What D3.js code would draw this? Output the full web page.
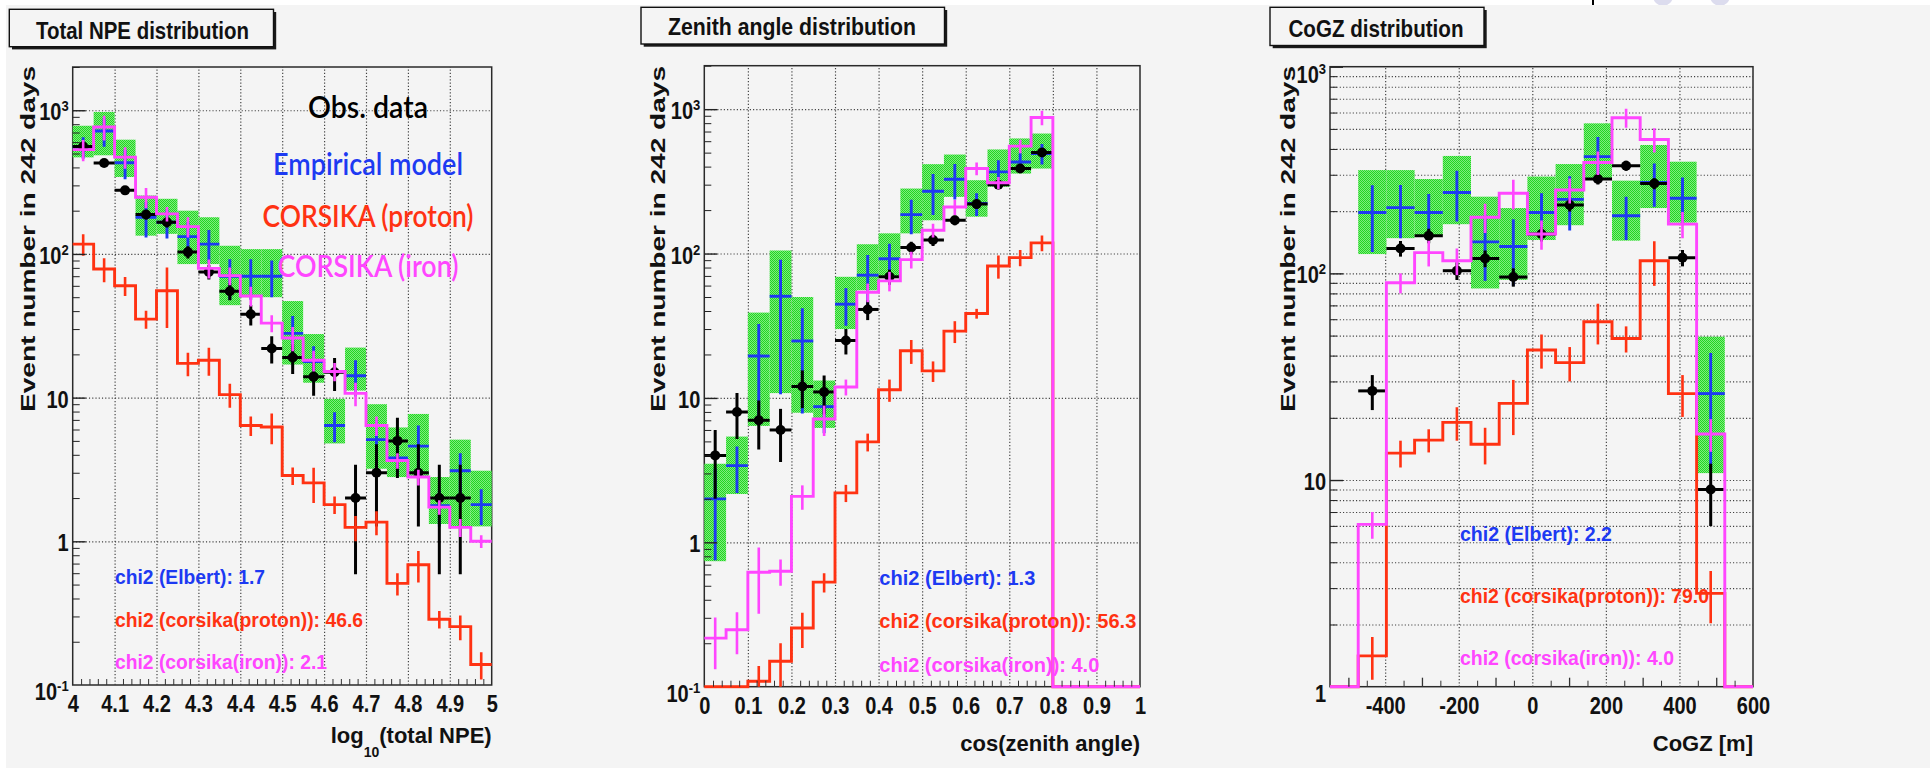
<!DOCTYPE html>
<html>
<head>
<meta charset="utf-8">
<script src="https://cdn.jsdelivr.net/npm/d3@7"></script>
<style>
  body { margin: 0; background: #fff; }
  svg { display: block; }
  text { font-family: "Liberation Sans", Arial, Helvetica, sans-serif; }
</style>
</head>
<body>
<svg id="chart" width="1930" height="770"></svg>
<script>
// ---------------- Total NPE distribution ----------------
const npeEdges = [4.00, 4.05, 4.10, 4.15, 4.20, 4.25, 4.30, 4.35, 4.40, 4.45, 4.50,
                  4.55, 4.60, 4.65, 4.70, 4.75, 4.80, 4.85, 4.90, 4.95, 5.00];
const npeObs      = [560, 430, 277, 188, 166, 103, 75, 55, 38, 22, 19, 14, 15, 2, 3, 5, 3, 2, 2, 0];
const npeObsErr   = [24, 21, 17, 14, 13, 10, 8.7, 7.4, 6.2, 4.7, 4.4, 3.7, 3.9, 1.41, 1.73, 2.24, 1.73, 1.41, 1.41, 0];
const npeEmp      = [555, 718, 431, 180, 166, 132, 117, 70, 70, 70, 28, 17.8, 6.4, 14.2, 5.1, 3.8, 4.6, 1.77, 3.1, 1.8];
const npeEmpErr   = [95, 160, 100, 50, 38, 35, 30, 22, 22, 20, 9, 5, 1.5, 4, 1.9, 0.8, 1.8, 0.5, 1, 0.5];
const npeBandLo   = [470, 486, 343, 134, 138, 85, 85, 44, 50, 50, 17, 12.7, 4.8, 11.2, 3.2, 2.8, 2.8, 1.32, 1.27, 1.27];
const npeBandHi   = [780, 973, 624, 255, 242, 200, 180, 114, 108, 108, 47, 27.7, 9.8, 22.3, 9, 6.2, 7.7, 2.8, 5.1, 3.1];
const npeProton   = [117, 78.5, 60, 35.2, 55.5, 17.3, 18.2, 10.5, 6.4, 6.24, 2.87, 2.55, 1.8, 1.25, 1.36, 0.51, 0.687, 0.287, 0.255, 0.139];
const npeProtonErr= [20, 15, 9, 5, 25, 3.2, 4, 2, 1, 1.5, 0.4, 0.7, 0.25, 0.25, 0.26, 0.09, 0.17, 0.04, 0.05, 0.03];
const npeIron     = [532, 765, 472, 248, 190, 155, 79.4, 70.6, 51, 33, 26, 18.2, 15.2, 10.7, 6.4, 3.65, 2.8, 1.73, 1.25, 1.0];
const npeIronErr  = [90, 150, 80, 40, 22, 25, 12, 10, 8, 4.5, 5, 3, 2.2, 2, 1, 0.45, 0.35, 0.2, 0.18, 0.1];
const npeTicks    = [4, 4.1, 4.2, 4.3, 4.4, 4.5, 4.6, 4.7, 4.8, 4.9, 5];
const npeTickText = ["4", "4.1", "4.2", "4.3", "4.4", "4.5", "4.6", "4.7", "4.8", "4.9", "5"];
const npeChi2     = ["1.7", "46.6", "2.1"];

// ---------------- Zenith angle distribution ----------------
const zenEdges = [0, 0.05, 0.10, 0.15, 0.20, 0.25, 0.30, 0.35, 0.40, 0.45, 0.50,
                  0.55, 0.60, 0.65, 0.70, 0.75, 0.80, 0.85, 0.90, 0.95, 1.00];
const zenObs      = [4, 8, 7, 6, 12, 11, 25, 41, 69, 110, 124, 170, 220, 300, 388, 501, 0, 0, 0, 0];
const zenObsErr   = [2, 2.8, 2.6, 2.4, 3.5, 3.3, 5, 6.4, 8.3, 10.5, 11.1, 13, 14.8, 17.3, 19.7, 22.4, 0, 0, 0, 0];
const zenEmp      = [2.0, 3.4, 19.5, 50.6, 24.8, 8.7, 44.6, 70.8, 92, 186, 270, 327, 222, 368, 431, 493, 0, 0, 0, 0];
const zenEmpErr   = [1.25, 1.2, 13, 40, 17, 3, 13, 27, 25, 50, 85, 90, 40, 75, 65, 80, 0, 0, 0, 0];
const zenBandLo   = [0.74, 2.16, 6.4, 10.8, 7.9, 6.2, 30, 55.7, 69, 138, 170, 247, 180, 290, 358, 388, 0, 0, 0, 0];
const zenBandHi   = [3.5, 5.4, 39, 105, 50, 13.2, 69, 116, 138, 282, 416, 485, 322, 526, 627, 678, 0, 0, 0, 0];
const zenProton   = [0, 0, 0.109, 0.15, 0.255, 0.53, 2.2, 4.96, 11.4, 21.2, 15.4, 29, 38.4, 82, 93.7, 118.6, 0, 0, 0, 0];
const zenProtonErr= [0, 0, 0.03, 0.05, 0.07, 0.08, 0.3, 0.7, 2, 4, 2.5, 5, 3, 15, 12, 15, 0, 0, 0, 0];
const zenIron     = [0.217, 0.248, 0.62, 0.63, 2.08, 7.15, 11.9, 54, 64.7, 90.8, 145, 210, 388, 309, 555, 875, 0, 0, 0, 0];
const zenIronErr  = [0.085, 0.08, 0.3, 0.13, 0.4, 1.7, 1.5, 8, 10, 12, 16, 25, 40, 30, 60, 100, 0, 0, 0, 0];
const zenTicks    = [0, 0.1, 0.2, 0.3, 0.4, 0.5, 0.6, 0.7, 0.8, 0.9, 1];
const zenTickText = ["0", "0.1", "0.2", "0.3", "0.4", "0.5", "0.6", "0.7", "0.8", "0.9", "1"];
const zenChi2     = ["1.3", "56.3", "4.0"];

// ---------------- CoGZ distribution ----------------
const cogzEdges = [-550, -473.3, -396.7, -320, -243.3, -166.7, -90, -13.3, 63.3,
                   140, 216.7, 293.3, 370, 446.7, 523.3, 600];
const cogzObs      = [0, 27, 132, 152, 103, 118, 96, 155, 214, 286, 332, 272, 119, 9, 0];
const cogzObsErr   = [0, 5.2, 11.5, 12.3, 10.1, 10.9, 9.8, 12.4, 14.6, 16.9, 18.2, 16.5, 10.9, 3, 0];
const cogzEmp      = [0, 197, 208, 197, 246, 142, 135, 197, 228, 367, 190, 275, 231, 26.2, 0];
const cogzEmpErr   = [0, 70, 60, 45, 68, 50, 48, 47, 67, 90, 45, 65, 60, 15, 0];
const cogzBandLo   = [0, 124, 148, 153, 173, 84.5, 93, 145, 171, 288, 144, 207, 176, 10.8, 0];
const cogzBandHi   = [0, 316, 316, 286, 370, 235, 207, 294, 338, 532, 281, 418, 347, 49.4, 0];
const cogzProton   = [0, 1.41, 13.5, 15.6, 19.0, 14.9, 23.5, 42.6, 37, 58.3, 48.4, 115, 26.2, 2.83, 0];
const cogzProtonErr= [0, 0.33, 2, 2, 3.5, 3, 7, 8, 7, 13, 7, 28, 6, 0.8, 0];
const cogzIron     = [0, 6.1, 90, 126, 115, 187, 244, 155, 253, 344, 566, 444, 173, 16.7, 0];
const cogzIronErr  = [0, 0.9, 10, 18, 17, 30, 40, 25, 35, 45, 60, 60, 25, 3, 0];
const cogzTicks    = [-400, -200, 0, 200, 400, 600];
const cogzTickText = ["-400", "-200", "0", "200", "400", "600"];
const cogzChi2     = ["2.2", "79.0", "4.0"];

// ---------------- shared text ----------------
const chi2Names    = ["chi2 (Elbert): ", "chi2 (corsika(proton)): ", "chi2 (corsika(iron)): "];
const legendNames  = ["Obs. data", "Empirical model", "CORSIKA (proton)", "CORSIKA (iron)"];
const yAxisTitle   = "Event number in 242 days";

const BLACK = "#000", BLUE = "#1d3af2", RED = "#ff3212", MAGENTA = "#ff46ff";
const BG = "#f4f4f4";
const FONT = "'Liberation Sans', Arial, Helvetica, sans-serif";

const svg = d3.select("#chart");
const defs = svg.append("defs");

// stippled green fill for the model uncertainty band
const pat = defs.append("pattern").attr("id", "bandFill")
  .attr("patternUnits", "userSpaceOnUse").attr("width", 2).attr("height", 2);
pat.append("rect").attr("width", 2).attr("height", 2).attr("fill", "#7eec7e");
pat.append("rect").attr("width", 1).attr("height", 1).attr("fill", "#22d622");
pat.append("rect").attr("x", 1).attr("y", 1).attr("width", 1).attr("height", 1).attr("fill", "#22d622");

// page background
svg.append("rect").attr("width", 1930).attr("height", 770).attr("fill", "#fff");
svg.append("circle").attr("cx", 1663).attr("cy", -4).attr("r", 10).attr("fill", "#dcdcee");
svg.append("circle").attr("cx", 1720).attr("cy", -4).attr("r", 10).attr("fill", "#dcdcee");
svg.append("line").attr("x1", 1593).attr("x2", 1593).attr("y1", 0).attr("y2", 5)
  .attr("stroke", "#000").attr("stroke-width", 2);
svg.append("rect").attr("x", 6).attr("y", 5).attr("width", 1924).attr("height", 763).attr("fill", BG);

const decadeMinors = (lo, hi) => {
  const out = [];
  for (let k = Math.floor(Math.log10(lo)); k <= Math.ceil(Math.log10(hi)); k++)
    for (let m = 2; m <= 9; m++) { const v = m * Math.pow(10, k); if (v > lo && v <= hi) out.push(v); }
  return out;
};
const decades = (lo, hi) => {
  const out = [];
  for (let k = Math.round(Math.log10(lo)); Math.pow(10, k) <= hi * 1.0001; k++) out.push(Math.pow(10, k));
  return out;
};
const notMultiple = (vals, step) => vals.filter(v => Math.abs(v / step - Math.round(v / step)) > 1e-6);

const panels = [
  {
    id: "npe", xDomain: [4, 5], yDomain: [0.1, 2000],
    left: 72.7, right: 491.7, top: 67, bottom: 685,
    edges: npeEdges, obs: npeObs, obsErr: npeObsErr, emp: npeEmp, empErr: npeEmpErr,
    bandLo: npeBandLo, bandHi: npeBandHi, proton: npeProton, protonErr: npeProtonErr,
    iron: npeIron, ironErr: npeIronErr,
    xTicks: npeTicks, xTickText: npeTickText,
    xGrid: npeTicks.slice(1, -1),
    xMedium: [],
    xMinor: notMultiple(d3.range(4.02, 5, 0.02), 0.1),
    yGridMinor: false,
    title: "Total NPE distribution", box: [9.3, 9.3, 273.5, 46.7], titleX: 142.5, titleY: 39.3, titleW: 213,
    yTitleX: 35,
    xTitle: [["log", 0], ["10", 14, 14], ["(total NPE)", 0]], xTitleY: 742.7,
    chi2: npeChi2, chiX: 115, chiY: [584, 626.7, 669.3], chiW: [150, 248, 212],
  },
  {
    id: "zen", xDomain: [0, 1], yDomain: [0.1, 2000],
    left: 704.3, right: 1140, top: 65.7, bottom: 686.7,
    edges: zenEdges, obs: zenObs, obsErr: zenObsErr, emp: zenEmp, empErr: zenEmpErr,
    bandLo: zenBandLo, bandHi: zenBandHi, proton: zenProton, protonErr: zenProtonErr,
    iron: zenIron, ironErr: zenIronErr,
    xTicks: zenTicks, xTickText: zenTickText,
    xGrid: zenTicks.slice(1, -1),
    xMedium: [],
    xMinor: notMultiple(d3.range(0.02, 1, 0.02), 0.1),
    yGridMinor: false,
    title: "Zenith angle distribution", box: [641, 7.3, 944.5, 44], titleX: 792, titleY: 35, titleW: 248,
    yTitleX: 665,
    xTitle: [["cos(zenith angle)", 0]], xTitleY: 751,
    chi2: zenChi2, chiX: 879.3, chiY: [585, 628.3, 671.7], chiW: [156, 257, 220],
  },
  {
    id: "cogz", xDomain: [-550, 600], yDomain: [1, 1000],
    left: 1330, right: 1753, top: 66.7, bottom: 686.7,
    edges: cogzEdges, obs: cogzObs, obsErr: cogzObsErr, emp: cogzEmp, empErr: cogzEmpErr,
    bandLo: cogzBandLo, bandHi: cogzBandHi, proton: cogzProton, protonErr: cogzProtonErr,
    iron: cogzIron, ironErr: cogzIronErr,
    xTicks: cogzTicks, xTickText: cogzTickText,
    xGrid: cogzTicks.slice(0, -1),
    xMedium: [-500, -300, -100, 100, 300, 500],
    xMinor: [-450, -350, -250, -150, -50, 50, 150, 250, 350, 450, 550],
    yGridMinor: true,
    title: "CoGZ distribution", box: [1270, 7.3, 1484, 45.5], titleX: 1376, titleY: 37.3, titleW: 175,
    yTitleX: 1295,
    xTitle: [["CoGZ [m]", 0]], xTitleY: 751,
    chi2: cogzChi2, chiX: 1460, chiY: [541, 602.7, 665], chiW: [152, 249, 214],
  }
];

function drawPanel(p) {
  const x = d3.scaleLinear().domain(p.xDomain).range([p.left, p.right]);
  const y = d3.scaleLog().domain(p.yDomain).range([p.bottom, p.top]);
  const Y = v => y(Math.max(v, p.yDomain[0]));
  const w = p.right - p.left, h = p.bottom - p.top;
  const nb = p.edges.length - 1;
  const bins = d3.range(nb);
  const root = svg.append("g");

  // title box with drop shadow
  const bw = p.box[2] - p.box[0], bh = p.box[3] - p.box[1];
  root.append("rect").attr("x", p.box[0] + 2.7).attr("y", p.box[1] + 2.7)
    .attr("width", bw).attr("height", bh).attr("fill", "#1a1a1a");
  root.append("rect").attr("x", p.box[0]).attr("y", p.box[1]).attr("width", bw).attr("height", bh)
    .attr("fill", BG).attr("stroke", "#111").attr("stroke-width", 1.4);
  root.append("text").attr("x", p.titleX).attr("y", p.titleY).attr("text-anchor", "middle")
    .attr("font-size", 24.5).attr("font-weight", "bold").attr("fill", "#111")
    .attr("textLength", p.titleW).attr("lengthAdjust", "spacingAndGlyphs").text(p.title);

  // frame
  root.append("rect").attr("x", p.left).attr("y", p.top).attr("width", w).attr("height", h)
    .attr("fill", BG).attr("stroke", "#2a2a2a").attr("stroke-width", 1.5);

  // dotted grid
  const dotted = s => s.attr("stroke", "#404040").attr("stroke-width", 1.15).attr("stroke-dasharray", "1.15,2.1");
  root.append("g").attr("transform", `translate(0,${p.bottom})`)
    .call(d3.axisBottom(x).tickValues(p.xGrid).tickSize(-h).tickFormat(""))
    .call(g => { g.select(".domain").remove(); g.selectAll("line").call(dotted); });
  const yMajor = decades(p.yDomain[0], p.yDomain[1]);
  const yMinor = decadeMinors(p.yDomain[0], p.yDomain[1]);
  let yGrid = yMajor.filter(v => v > p.yDomain[0] && v < p.yDomain[1] * 0.999);
  if (p.yGridMinor) yGrid = yGrid.concat(yMinor.filter(v => v < p.yDomain[1] * 0.999));
  root.append("g").attr("transform", `translate(${p.left},0)`)
    .call(d3.axisLeft(y).tickValues(yGrid).tickSize(-w).tickFormat(""))
    .call(g => { g.select(".domain").remove(); g.selectAll("line").call(dotted); });

  // data marks, clipped to the frame
  defs.append("clipPath").attr("id", "clip-" + p.id).append("rect")
    .attr("x", p.left - 2).attr("y", p.top - 2).attr("width", w + 4).attr("height", h + 4);
  const gs = root.append("g").attr("clip-path", `url(#clip-${p.id})`);
  const xc = i => x((p.edges[i] + p.edges[i + 1]) / 2);

  // empirical model uncertainty band
  gs.append("g").selectAll("rect").data(bins.filter(i => p.bandHi[i] > 0)).join("rect")
    .attr("x", i => x(p.edges[i])).attr("width", i => x(p.edges[i + 1]) - x(p.edges[i]))
    .attr("y", i => Y(p.bandHi[i])).attr("height", i => Y(p.bandLo[i]) - Y(p.bandHi[i]))
    .attr("fill", "url(#bandFill)");

  // crosses: horizontal bar over the bin + vertical error
  function crosses(vals, errs, color, width, withBar) {
    const g = gs.append("g").attr("stroke", color).attr("stroke-width", width);
    const idx = bins.filter(i => vals[i] > 0);
    if (withBar) {
      g.selectAll("line.h").data(idx).join("line").attr("class", "h")
        .attr("x1", i => x(p.edges[i])).attr("x2", i => x(p.edges[i + 1]))
        .attr("y1", i => Y(vals[i])).attr("y2", i => Y(vals[i]));
    }
    g.selectAll("line.v").data(idx.filter(i => errs[i] > 0)).join("line").attr("class", "v")
      .attr("x1", xc).attr("x2", xc)
      .attr("y1", i => Y(vals[i] + errs[i])).attr("y2", i => Y(vals[i] - errs[i]));
    return g;
  }
  function steps(vals, color) {
    const pts = [];
    vals.forEach((v, i) => { pts.push([x(p.edges[i]), Y(v)], [x(p.edges[i + 1]), Y(v)]); });
    gs.append("path").attr("d", d3.line()(pts)).attr("fill", "none")
      .attr("stroke", color).attr("stroke-width", 2.9).attr("stroke-linejoin", "miter");
  }

  crosses(p.emp, p.empErr, BLUE, 2.9, true);
  const gObs = crosses(p.obs, p.obsErr, BLACK, 3, true);
  gObs.selectAll("circle").data(bins.filter(i => p.obs[i] > 0)).join("circle")
    .attr("cx", xc).attr("cy", i => Y(p.obs[i])).attr("r", 5).attr("fill", BLACK).attr("stroke", "none");
  steps(p.proton, RED);
  crosses(p.proton, p.protonErr, RED, 2.6, false);
  steps(p.iron, MAGENTA);
  crosses(p.iron, p.ironErr, MAGENTA, 2.6, false);

  // tick marks, pointing into the frame
  const tickStyle = (s, color, wdt) => s.attr("stroke", color).attr("stroke-width", wdt);
  const xTickAxis = (vals, len, wdt) => root.append("g").attr("transform", `translate(0,${p.bottom})`)
    .call(d3.axisBottom(x).tickValues(vals).tickSize(-len).tickFormat(""))
    .call(g => { g.select(".domain").remove(); g.selectAll("line").call(tickStyle, "#333", wdt); });
  xTickAxis(p.xMinor, 6, 1);
  xTickAxis(p.xMedium, 9, 1.3);
  const yTickAxis = (vals, len, wdt) => root.append("g").attr("transform", `translate(${p.left},0)`)
    .call(d3.axisLeft(y).tickValues(vals).tickSize(-len).tickFormat(""))
    .call(g => { g.select(".domain").remove(); g.selectAll("line").call(tickStyle, "#222", wdt); });
  yTickAxis(yMinor, 7, 1);
  yTickAxis(yMajor.filter(v => v > p.yDomain[0]), 13, 1.4);

  // x tick labels
  root.append("g").attr("transform", `translate(0,${p.bottom})`)
    .call(d3.axisBottom(x).tickValues(p.xTicks).tickSize(0).tickFormat((d, i) => p.xTickText[i]))
    .call(g => {
      g.select(".domain").remove();
      g.selectAll("text").attr("y", 27).attr("dy", null).attr("fill", "#111")
        .style("font-family", FONT).style("font-size", "23px").style("font-weight", "bold")
        .attr("transform", "scale(0.87,1)");
    });

  // y tick labels (powers of ten)
  root.append("g").attr("transform", `translate(${p.left},0)`)
    .call(d3.axisLeft(y).tickValues(yMajor).tickSize(0).tickFormat(""))
    .call(g => {
      g.select(".domain").remove();
      g.selectAll(".tick").each(function (d) {
        const k = Math.round(Math.log10(d));
        const t = d3.select(this).select("text");
        t.text(null).attr("x", -4 / 0.87).attr("dy", null)
          .attr("y", 9.5 + (d >= p.yDomain[1] * 0.999 ? 6 : 0) + (d <= p.yDomain[0] * 1.001 ? 5 : 0))
          .attr("fill", "#111").attr("transform", "scale(0.87,1)")
          .style("font-family", FONT).style("font-size", "23px").style("font-weight", "bold");
        if (k === 0) t.text("1");
        else if (k === 1) t.text("10");
        else {
          t.append("tspan").text("10");
          t.append("tspan").attr("dy", -9).style("font-size", "15px").text(String(k));
        }
      });
    });

  // axis titles
  root.append("text")
    .attr("transform", `translate(${p.yTitleX},66) rotate(-90)`)
    .attr("text-anchor", "end").attr("font-size", 21).attr("font-weight", "bold").attr("fill", "#111")
    .attr("textLength", 346).attr("lengthAdjust", "spacingAndGlyphs").text(yAxisTitle);
  const xt = root.append("text").attr("x", p.right).attr("y", p.xTitleY).attr("text-anchor", "end")
    .attr("font-size", 22).attr("font-weight", "bold").attr("fill", "#111");
  p.xTitle.forEach(([s, dy, fs]) => {
    const ts = xt.append("tspan").text(s);
    if (fs) ts.attr("dy", dy).style("font-size", fs + "px");
    else if (xt.node().childNodes.length > 1) ts.attr("dy", -14);
  });

  // chi-square annotations
  const chiColors = [BLUE, RED, MAGENTA];
  chi2Names.forEach((name, i) => {
    root.append("text").attr("x", p.chiX).attr("y", p.chiY[i]).attr("fill", chiColors[i])
      .attr("font-size", 19.5).attr("font-weight", "bold")
      .attr("textLength", p.chiW[i]).attr("lengthAdjust", "spacingAndGlyphs")
      .text(name + p.chi2[i]);
  });
}

panels.forEach(drawPanel);

// legend (text only) in the first panel
const legendColors = [BLACK, BLUE, RED, MAGENTA];
const legendY = [118.3, 175, 226.7, 276.7];
const legendW = [120, 190, 211, 181];
legendNames.forEach((s, i) => {
  svg.append("text").attr("x", 368).attr("y", legendY[i]).attr("text-anchor", "middle")
    .attr("fill", legendColors[i]).attr("font-size", 30).attr("font-weight", 600)
    .style("font-family", "Lato, 'Noto Sans', sans-serif")
    .attr("textLength", legendW[i]).attr("lengthAdjust", "spacingAndGlyphs").text(s);
});
</script>
</body>
</html>
